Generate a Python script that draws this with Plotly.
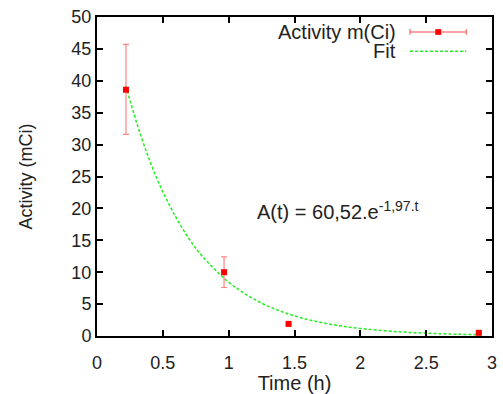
import plotly.graph_objects as go

# Measured data
time_h = [0.22, 0.965, 1.455, 2.90]
activity = [38.6, 10.0, 1.9, 0.5]
err_plus = [7.1, 2.4, 0.0, 0.0]
err_minus = [7.0, 2.4, 0.0, 0.0]

# Fit curve
fit_t = [0.22, 0.3, 0.4, 0.5, 0.6, 0.7, 0.8, 1.0, 1.2, 1.4, 1.6, 1.8, 2.0, 2.3, 2.6, 2.92]
fit_a = [39.2, 33.5, 27.5, 22.6, 18.6, 15.2, 12.5, 8.44, 5.69, 3.84, 2.59, 1.75, 1.18, 0.65, 0.36, 0.19]

x_ticks = [0, 0.5, 1, 1.5, 2, 2.5, 3]
y_ticks = [0, 5, 10, 15, 20, 25, 30, 35, 40, 45, 50]

FONT = "Liberation Sans, Arial, sans-serif"
TXT = "#222222"
RED = "#ff0000"
ERR = "rgba(255,90,90,0.75)"
GREEN = "#22ee22"

fig = go.Figure()
fig.add_trace(go.Scatter(
    x=fit_t, y=fit_a, mode="lines", line=dict(color=GREEN, width=1.5, dash="3px,2px", shape="spline"),
    name="Fit", showlegend=False, cliponaxis=False))
fig.add_trace(go.Scatter(
    x=time_h, y=activity, mode="markers",
    marker=dict(symbol="square", size=6, color=RED),
    error_y=dict(type="data", array=err_plus, arrayminus=err_minus, color=ERR, thickness=1.2, width=3),
    name="Activity m(Ci)", showlegend=False, cliponaxis=False))

axis_common = dict(
    showline=True, linecolor="black", linewidth=2, mirror="ticks",
    ticks="inside", ticklen=6, tickwidth=2, tickcolor="black",
    showgrid=False, zeroline=False,
    tickfont=dict(family=FONT, size=18, color=TXT),
)
fig.update_xaxes(range=[0, 3], tickvals=x_ticks, ticktext=[str(v) for v in x_ticks],
                 ticklabelstandoff=9,
                 title=dict(text="Time (h)", font=dict(family=FONT, size=20, color=TXT), standoff=1),
                 **axis_common)
fig.update_yaxes(range=[0, 50], tickvals=y_ticks, ticktext=[str(v) for v in y_ticks],
                 title=dict(text="Activity (mCi)", font=dict(family=FONT, size=18, color=TXT), standoff=34),
                 **axis_common)

# Gnuplot-style legend: text on the left, sample on the right
fig.add_annotation(xref="paper", yref="paper", x=0.7625, y=0.953, text="Activity m(Ci)",
                   showarrow=False, xanchor="right", yanchor="middle",
                   font=dict(family=FONT, size=20, color=TXT))
fig.add_annotation(xref="paper", yref="paper", x=0.7625, y=0.893, text="Fit",
                   showarrow=False, xanchor="right", yanchor="middle",
                   font=dict(family=FONT, size=20, color=TXT))
fig.add_shape(type="line", xref="paper", yref="paper", x0=0.7925, x1=0.935, y0=0.953, y1=0.953,
              line=dict(color=ERR, width=1.5))
for xx in (0.7925, 0.935):
    fig.add_shape(type="line", xref="paper", yref="paper", x0=xx, x1=xx, y0=0.944, y1=0.962,
                  line=dict(color=ERR, width=1.5))
fig.add_shape(type="rect", xref="paper", yref="paper", x0=0.8565, x1=0.871, y0=0.944, y1=0.962,
              line=dict(width=0), fillcolor=RED)
fig.add_shape(type="line", xref="paper", yref="paper", x0=0.7925, x1=0.935, y0=0.893, y1=0.893,
              line=dict(color=GREEN, width=1.5, dash="3px,2px"))

fig.add_annotation(xref="x", yref="y", x=1.2, y=19.6,
                   text="A(t) = 60,52.e<sup>-1,97.t</sup>", showarrow=False,
                   xanchor="left", yanchor="middle",
                   font=dict(family=FONT, size=20, color=TXT))

fig.update_layout(
    width=503, height=394,
    margin=dict(l=97, r=6, t=17, b=58),
    paper_bgcolor="white", plot_bgcolor="white",
    showlegend=False,
)
fig.write_html("out.html")
